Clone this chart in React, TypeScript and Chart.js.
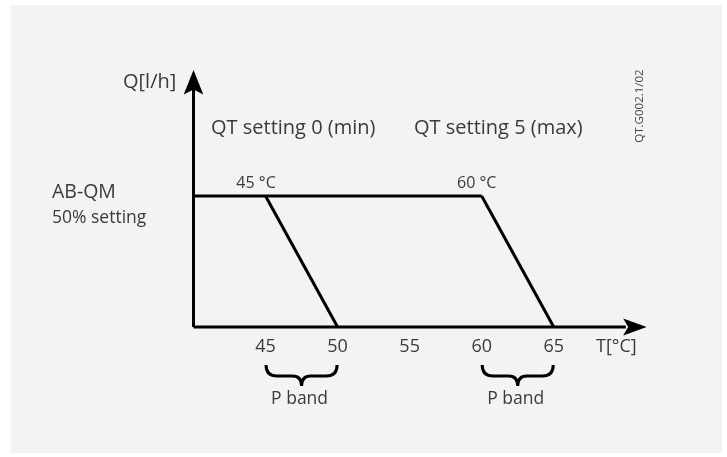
import React, { useEffect, useRef } from 'react';
import { Chart, registerables } from 'chart.js';

Chart.register(...registerables);

// ---- data ----
const tempMin = 40;
const tempMax = 72;
const flowMin = 0;
const flowMax = 2;
const tickTemps = [45, 50, 55, 60, 65];
const tickLabels = ['45', '50', '55', '60', '65'];

const flowLevelTemps = [40, 60];
const flowLevelValues = [1, 1];
const minSettingTemps = [45, 50];
const minSettingFlow = [1, 0];
const maxSettingTemps = [60, 65];
const maxSettingFlow = [1, 0];

const tAxisTemps = [40, 70];
const tAxisFlow = [0, 0];
const qAxisTemps = [40, 40];
const qAxisFlow = [0, 1.88];
const tArrowTip = 71.45;
const qArrowTip = 1.962;

const bandStarts = [45, 60];
const bandEnds = [50, 65];
const bandLabels = ['P band', 'P band'];
const cornerTemps = [45, 60];
const cornerLabels = ['45 °C', '60 °C'];
const settingLabels = ['QT setting 0 (min)', 'QT setting 5 (max)'];

const FONT = "'Open Sans', sans-serif";
const TEXT = '#3a3a3a';

const pts = (xs: number[], ys: number[]) => xs.map((x, i) => ({ x, y: ys[i] }));

const bgPlugin = {
  id: 'bg',
  beforeDraw(chart: any) {
    const ctx = chart.ctx;
    ctx.save();
    ctx.fillStyle = '#ffffff';
    ctx.fillRect(0, 0, chart.width, chart.height);
    ctx.fillStyle = '#f2f3f5';
    ctx.fillRect(11, 5, 711, 448);
    ctx.restore();
  },
};

const decorPlugin = {
  id: 'decor',
  afterDatasetsDraw(chart: any) {
    const ctx = chart.ctx;
    const xs = chart.scales.x;
    const ys = chart.scales.y;
    const X = (v: number) => xs.getPixelForValue(v);
    const Y = (v: number) => ys.getPixelForValue(v);
    ctx.save();
    ctx.fillStyle = '#000';
    // Q arrow head
    const qx = X(tempMin), qy = Y(qArrowTip);
    ctx.beginPath();
    ctx.moveTo(qx, qy);
    ctx.lineTo(qx + 9.8, qy + 24.5);
    ctx.lineTo(qx, qy + 19.5);
    ctx.lineTo(qx - 9.8, qy + 24.5);
    ctx.closePath();
    ctx.fill();
    // T arrow head
    const tx = X(tArrowTip), ty = Y(flowMin);
    ctx.beginPath();
    ctx.moveTo(tx, ty);
    ctx.lineTo(tx - 23.5, ty - 8.5);
    ctx.lineTo(tx - 18.5, ty);
    ctx.lineTo(tx - 23.5, ty + 8.5);
    ctx.closePath();
    ctx.fill();

    // braces
    ctx.strokeStyle = '#000';
    ctx.lineWidth = 3;
    bandStarts.forEach((s, i) => {
      const x0 = X(s) + 0.5, x1 = X(bandEnds[i]) - 0.5;
      const xm = (x0 + x1) / 2;
      const top = 365, mid = 376, tip = 386;
      ctx.beginPath();
      ctx.moveTo(x0, top);
      ctx.quadraticCurveTo(x0, mid, x0 + 11, mid);
      ctx.lineTo(xm - 9, mid);
      ctx.quadraticCurveTo(xm, mid, xm, tip);
      ctx.quadraticCurveTo(xm, mid, xm + 9, mid);
      ctx.lineTo(x1 - 11, mid);
      ctx.quadraticCurveTo(x1, mid, x1, top);
      ctx.stroke();
      ctx.fillStyle = TEXT;
      ctx.font = `17.5px ${FONT}`;
      ctx.textAlign = 'center';
      ctx.textBaseline = 'alphabetic';
      ctx.fillText(bandLabels[i], xm - 2, 404);
    });

    ctx.fillStyle = TEXT;
    ctx.textBaseline = 'alphabetic';
    ctx.textAlign = 'left';
    // axis titles
    ctx.font = `20px ${FONT}`;
    ctx.fillText('Q[l/h]', 123, 88);
    ctx.font = `18px ${FONT}`;
    ctx.fillText('T[°C]', 596, 352);
    // settings
    ctx.font = `20px ${FONT}`;
    ctx.fillText(settingLabels[0], 211, 134);
    ctx.fillText(settingLabels[1], 414, 134);
    // AB-QM
    ctx.font = `19.5px ${FONT}`;
    ctx.fillText('AB-QM', 52, 198);
    ctx.font = `17.5px ${FONT}`;
    ctx.fillText('50% setting', 52, 223);
    // corner labels
    ctx.font = `16px ${FONT}`;
    ctx.textAlign = 'center';
    const cornerOffsets = [-9.5, -5];
    cornerTemps.forEach((t, i) => {
      ctx.fillText(cornerLabels[i], X(t) + cornerOffsets[i], Y(flowLevelValues[0]) - 8.5);
    });
    // rotated code
    ctx.save();
    ctx.translate(643, 106);
    ctx.rotate(-Math.PI / 2);
    ctx.font = `11.5px ${FONT}`;
    ctx.fillStyle = '#444';
    ctx.textAlign = 'center';
    ctx.textBaseline = 'alphabetic';
    ctx.fillText('QT.G002.1/02', 0, 0);
    ctx.restore();
    ctx.restore();
  },
};

export default function App() {
  const ref = useRef<HTMLCanvasElement>(null);
  useEffect(() => {
    if (!ref.current) return;
    const line = (data: any[]) => ({
      data,
      borderColor: '#000',
      borderWidth: 3,
      pointRadius: 0,
      fill: false,
      tension: 0,
      clip: false as any,
      borderCapStyle: 'butt' as const,
    });
    const chart = new Chart(ref.current, {
      type: 'line',
      data: {
        datasets: [
          line(pts(tAxisTemps, tAxisFlow)),
          line(pts(qAxisTemps, qAxisFlow)),
          line(pts(flowLevelTemps, flowLevelValues)),
          line(pts(minSettingTemps, minSettingFlow)),
          line(pts(maxSettingTemps, maxSettingFlow)),
        ],
      },
      options: {
        responsive: false,
        animation: false,
        events: [],
        layout: { padding: { left: 193.5, right: 72.4, top: 65, bottom: 90.4 } },
        plugins: { legend: { display: false }, tooltip: { enabled: false } },
        scales: {
          x: {
            type: 'linear',
            min: tempMin,
            max: tempMax,
            grid: { display: false, drawTicks: false },
            border: { display: false },
            afterBuildTicks: (axis: any) => {
              axis.ticks = tickTemps.map((v) => ({ value: v }));
            },
            ticks: {
              padding: 9,
              color: TEXT,
              font: { family: FONT, size: 18 },
              maxRotation: 0,
              autoSkip: false,
              callback: (v: any) => {
                const i = tickTemps.indexOf(Number(v));
                return i >= 0 ? tickLabels[i] : '';
              },
            },
          },
          y: {
            type: 'linear',
            min: flowMin,
            max: flowMax,
            display: false,
          },
        },
      },
      plugins: [bgPlugin, decorPlugin],
    });
    return () => chart.destroy();
  }, []);
  return (
    <div style={{ position: 'fixed', left: 0, top: 0, width: 727, height: 457 }}>
      <canvas ref={ref} width={727} height={457} style={{ width: 727, height: 457 }} />
    </div>
  );
}
